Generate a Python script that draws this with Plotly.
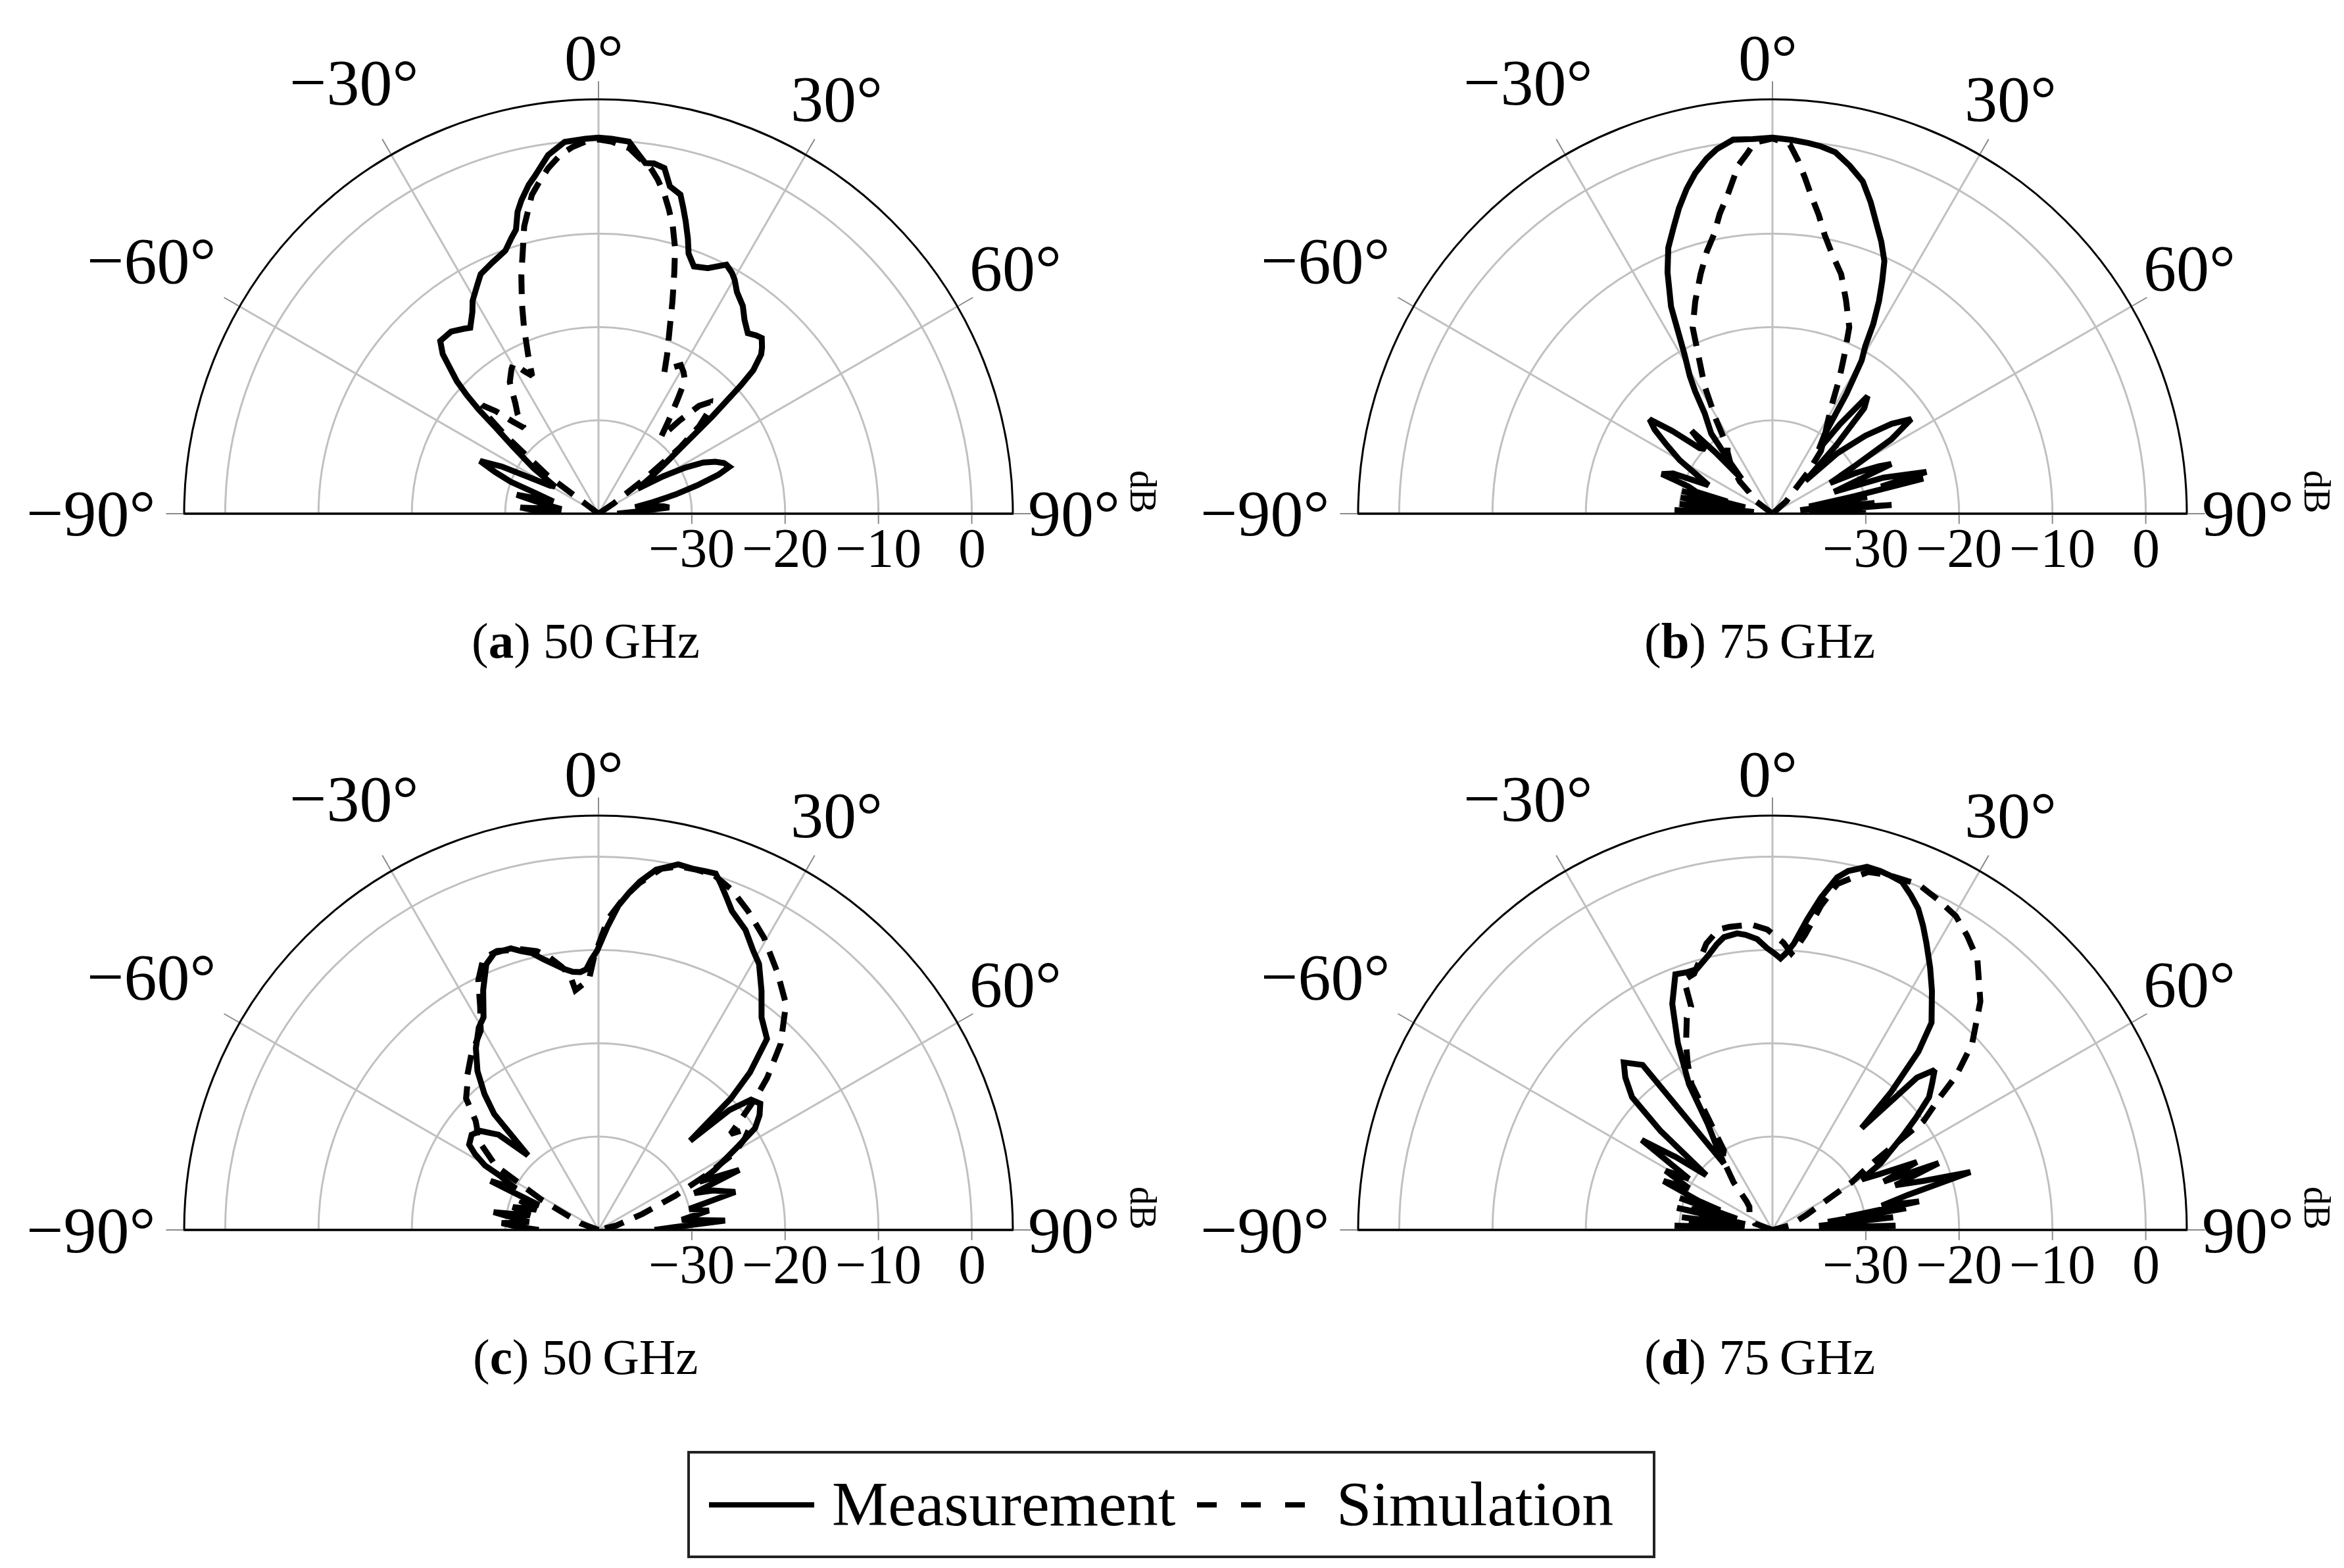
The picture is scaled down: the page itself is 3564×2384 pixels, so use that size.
import plotly.graph_objects as go

# ---------------- data (dB vs. angle in degrees) ----------------
meas_a_theta = [-90, -87.5, -85.5, -83, -80, -77, -75, -72, -70, -68, -66, -64, -62, -60, -58, -55, -52, -50,
                -49, -48, -46.9, -44.3, -42.5, -39, -36, -34.6, -32, -30.6, -28, -26.2, -23, -19.5, -17.5,
                -16.2, -15, -13.8, -12, -10.7, -8, -5.2, -2, 0, 2, 4.7, 6, 7.6, 9, 10.8, 12.3, 14.4, 15.5,
                16.6, 18, 19.1, 21.1, 24, 27.2, 29, 30.2, 32, 34.8, 37, 39.6, 41.5, 42.9, 44.5, 45.6, 47.2,
                48, 49.5, 51, 53, 55, 57.6, 60, 62, 64, 66, 68, 70.3, 72, 74, 76, 78, 80, 82, 83.5, 85, 87, 90]
meas_a_db = [-36, -33.5, -31.6, -36, -34, -31, -35, -33, -30, -28, -26.1, -28.5, -32, -34, -34.5, -31.5, -28.5,
             -25.5, -23, -21, -19.2, -16.1, -14.9, -14.9, -15.5, -15.8, -14.5, -13.5, -12.3, -11.4, -10.8,
             -10.1, -9.0, -8.3, -6.5, -5.4, -4.0, -3.2, -1.2, 0, 0.2, 0.3, 0.2, 0, -1.0, -2.1, -2.0, -2.3,
             -4.1, -4.7, -6.0, -7.3, -9.0, -10.5, -11.6, -11.2, -10.0, -10.5, -11.0, -12.0, -12.9, -14.0,
             -14.9, -14.5, -14.3, -15.0, -15.6, -17.4, -19.5, -24, -28, -31, -33, -35, -32, -29.5, -27.5,
             -26.3, -25.5, -25.1, -26.5, -29, -31.5, -34, -36, -34, -33, -32.4, -36, -38]

sim_a_theta = [-90, -60, -56, -53, -50, -48.5, -47, -45, -43, -41, -39, -37, -34, -31, -29.5, -27.5, -25.7,
               -24, -21.8, -20, -17.9, -16, -14.5, -11.8, -10, -8.3, -6, -4, -2, 0, 2, 4.8, 6.5, 8.6, 10,
               11.7, 13, 14.5, 16.1, 17.5, 19.2, 21, 23.3, 25, 27, 29, 31, 33, 34.6, 37, 39.2, 41, 43, 45,
               47, 49, 51, 53, 56, 60, 90]
sim_a_db = [-40, -40, -40, -33, -27, -24, -23, -24.5, -26.5, -27.8, -26.2, -25.2, -23.0, -21.9, -21.5, -22.8,
            -23.6, -21.5, -18.5, -16, -13.1, -10.6, -8.2, -5.1, -3.8, -2.6, -1.3, -0.6, -0.1, 0.1, -0.1,
            -0.7, -1.6, -2.55, -3.6, -5.1, -6.5, -8.2, -10.4, -13, -15.9, -18.7, -21.4, -23.3, -22.4,
            -21.8, -22.3, -23.0, -25, -27.5, -29.4, -26.8, -24.2, -23.1, -23.8, -25.7, -28.8, -33.8,
            -38, -40, -40]

meas_b_theta = [-90, -89, -88, -87, -86, -85, -84, -83, -82, -81, -80, -79, -78, -77, -76, -75, -74, -72,
                -70.3, -68, -66, -63, -60, -57, -54.5, -52.5, -50.5, -48, -46, -44.3, -43, -41.5, -39.6,
                -37.4, -34, -32.3, -31, -28.9, -26.1, -23.5, -21.4, -19, -17, -14.8, -12.8, -10.5, -8.7, -6,
                -3, 0, 3, 5.6, 7.5, 9.9, 12.5, 15.2, 17.5, 19.5, 21.8, 23.9, 25.3, 26.6, 28, 29, 30.2, 31.7,
                33.3, 35.8, 37, 39, 41, 43, 45, 47, 50, 53, 55.7, 58, 60, 62, 64, 66, 67.3, 69, 70.5, 72,
                74.8, 76, 76.9, 78, 79, 80, 81, 82, 83, 84, 85, 85.8, 86.5, 87.5, 88.5, 90]
meas_b_db = [-31, -37, -29.5, -36, -31, -38, -30, -36, -32, -37, -30, -35, -32, -37, -30, -35, -31.5, -30.5,
             -27.4, -28.5, -32.5, -31, -28.5, -26.5, -24.5, -23.4, -26, -29.5, -30, -27.6, -31, -35, -33,
             -29.2, -27, -24.5, -22.8, -20.5, -15.3, -11.8, -9.4, -7.5, -5.75, -4.0, -2.6, -1.3, -0.5, 0.3,
             0.2, 0.3, 0.1, -0.1, -0.3, -0.7, -1.8, -3.1, -5.0, -6.8, -8.6, -10.4, -12.5, -14.5, -17, -19.5,
             -21, -24.9, -29.8, -31.5, -28, -23.8, -25, -30, -35, -30.5, -27, -24, -22, -25, -30, -33, -30,
             -27.5, -26.2, -31, -33, -27.5, -22.9, -28, -23.4, -31, -36, -29.7, -35, -31, -37, -29, -34,
             -27.2, -35, -30, -36, -31]

sim_b_theta = [-90, -60, -53, -47.4, -45.5, -40, -36, -34, -31, -28, -23.2, -20, -16.7, -14, -11.8, -10,
               -8, -5.6, -4, -2.8, 0, 2.7, 4.1, 5.5, 6.9, 8.8, 10.6, 13, 16, 19, 22.4, 24.5, 26.3, 28.6, 31,
               34, 37.7, 40.7, 43, 48, 60, 90]
sim_b_db = [-40, -40, -37.5, -36.6, -35.1, -33, -31.8, -31.4, -28.3, -24.5, -18.3, -15.8, -13.2, -11, -9.4,
            -7.4, -5.5, -2.5, -1.3, -0.2, 0.2, -0.4, -2, -3.8, -5.6, -7.6, -9.6, -11.5, -13.3, -15.8, -18.4,
            -21.5, -23.8, -26.7, -28.5, -30, -31.5, -34.2, -36.6, -38, -40, -40]

meas_c_theta = [-90, -88, -85.9, -83.5, -80.4, -78, -75, -72, -69.5, -67.4, -65.6, -63.5, -61.3, -60.4,
                -58.5, -56.6, -53.1, -50, -48, -46.4, -43.4, -42, -40, -37.3, -34, -30.6, -28.4, -25.7,
                -22.9, -20.6, -17.3, -15.5, -13.5, -11.5, -9.6, -7.5, -5.7, -4, -2.7, -1.5, -0.3, 1.7, 3.5,
                5.2, 6.8, 9.1, 12.3, 14.8, 16.5, 18.2, 19.5, 21.1, 22.7, 26.1, 29, 31.1, 34.3, 37.5, 41.4,
                43.9, 45.2, 45.8, 47.5, 49.5, 52, 54.5, 57, 59, 60.5, 62.7, 64.5, 66.9, 69, 71, 74.5, 77,
                80, 83, 85.8, 88, 90]
meas_c_db = [-33.6, -31.5, -29.6, -32.5, -28.6, -32.5, -30.5, -33, -31, -33.1, -27.3, -30.1, -28.1, -26,
             -24.5, -23.4, -23.0, -23.5, -24.5, -25.2, -29, -23.3, -21, -18.6, -16.5, -14.8, -14.1, -11.5,
             -9.1, -8.3, -8.4, -9, -9.5, -10.4, -11.1, -11.8, -12.2, -12.3, -12.05, -11.0, -10.1, -7.5,
             -5.2, -3.7, -2.4, -0.9, 0.1, 0, 0.1, 0.2, -0.7, -1.85, -2.95, -4.2, -5.8, -6.7, -9, -11.3,
             -12.7, -16.6, -20, -26.3, -21, -18.5, -18, -18.8, -20, -22.5, -24.1, -26, -28, -23.6, -29,
             -27, -24.8, -30, -28, -31, -26.4, -32, -34]

sim_c_theta = [-90, -70, -62, -58, -53, -50, -48.4, -45.2, -42, -40.4, -36, -30.6, -28, -25.7, -23, -20,
               -15.4, -12.5, -10.4, -8, -6.4, -5.5, -3.5, -2.2, -0.9, 1.7, 4.4, 6.7, 9.9, 12.5, 15, 18,
               21.4, 25.1, 29.5, 34.8, 39.7, 44.4, 48, 50, 52, 54, 56, 58, 60.5, 63, 66, 70, 76, 90]
sim_c_db = [-40, -38, -33, -27, -23.7, -23, -22.4, -20, -19, -18.3, -16.8, -15.2, -13, -10.3, -8.4, -8.2,
            -8.8, -9.4, -10.2, -11.5, -12.5, -14.2, -13.6, -13.2, -10.7, -6.7, -4.3, -2.6, -0.7, -0.1, 0,
            0, -0.85, -2.25, -4, -6.4, -8.55, -12.1, -15.7, -18, -20.5, -22.5, -20.5, -21.5, -23.3, -27,
            -31, -35, -38, -40]

meas_d_theta = [-90, -89, -87.5, -86, -85, -83.5, -82, -80.5, -79.5, -78, -77, -75.5, -74, -72.5, -71, -69.5,
                -68.5, -65.8, -63.5, -61, -58.5, -55.5, -53, -50.4, -48.5, -46.6, -44, -41.6, -38.2, -36.2,
                -33.5, -31.4, -29.8, -26.9, -23.9, -20.8, -18.5, -16.2, -13.3, -11, -9.4, -6.8, -5.2, -3,
                -1.1, 0.5, 1.7, 3, 4.3, 6.4, 8.3, 10.4, 11.9, 14.6, 16.7, 18.5, 20.4, 22.5, 24.4, 26.3, 28.2,
                31, 33.7, 37.5, 39.3, 40.7, 41.2, 43.5, 45.4, 47.5, 49.7, 52, 54.3, 56.5, 58.4, 60.5, 62.5,
                64.8, 66.5, 68.1, 70, 72, 73.7, 75.5, 77.5, 79, 80, 80.8, 81.7, 82.5, 83.3, 84, 85, 86, 87,
                88, 89, 90]
meas_d_db = [-31, -36, -29.5, -36, -31, -37, -30.2, -36, -32, -37, -29.5, -35, -31, -36, -29.5, -34, -31.5,
             -27.2, -30, -26.9, -29.5, -23, -27, -30.8, -24, -19.3, -17.3, -16, -17.5, -31.2, -29, -26.7,
             -22, -17.6, -13.5, -10.7, -10.9, -10.9, -9.85, -8.8, -8.2, -8.0, -8.25, -8.8, -9.8, -10.4,
             -10.9, -10.2, -9.2, -6.5, -4.0, -1.6, -0.7, 0.2, 0.15, 0, -0.2, -1.2, -2.2, -3.6, -5.1, -7.2,
             -9.2, -12, -15.3, -20.5, -25.5, -17.5, -15.6, -16.8, -18, -20.5, -22.9, -25, -26.4, -29, -27,
             -22.9, -27, -20.8, -26, -23, -17.9, -25, -28, -24, -32, -25.5, -34, -30, -34, -27, -35, -30,
             -35, -26.8, -33, -30]

sim_d_theta = [-90, -70, -55, -45, -42.3, -39.2, -36, -34.6, -31.4, -29, -27, -24.9, -22, -20, -19.5, -17,
               -15, -13, -10.2, -8.1, -4, -1, 2.2, 3.9, 5, 6.3, 8.5, 10.6, 12.6, 15, 18, 22.9, 26.5, 30.3,
               33.5, 37.1, 42.3, 47, 50, 51.6, 54.2, 56.5, 58.9, 62, 66, 75, 90]
sim_d_db = [-40, -38, -37, -36.5, -35.9, -33.4, -31.5, -30.6, -30, -22.1, -20, -18, -15.5, -14.5, -11.6,
            -11.3, -10, -8.5, -7.3, -7.2, -7.2, -7.8, -9.2, -10.3, -9.5, -8.2, -4.9, -2.3, -1.4, -0.3, 0,
            0.2, -0.4, -1.05, -2.2, -3.6, -6.9, -10.75, -14.3, -17.1, -20, -27.7, -30, -34, -36, -38, -40]

panel_letters = ["a", "b", "c", "d"]
panel_freqs = ["50", "75", "50", "75"]

angle_ticks = [-90, -60, -30, 0, 30, 60, 90]
angle_labels = ["\u221290\u00b0", "\u221260\u00b0", "\u221230\u00b0", "0\u00b0", "30\u00b0", "60\u00b0", "90\u00b0"]
db_ticks = [-30, -20, -10, 0]
db_labels = ["\u221230", "\u221220", "\u221210", "0"]

# ---------------- layout constants ----------------
W, H = 3564, 2384
R_MIN, R_MAX = -40, 4.4
RAD = 630                       # radius of the half disc in px
CENTERS = [(902, 773), (2687, 773), (902, 1862), (2687, 1862)]
# where the angle labels sit, relative to the centre of each half disc (px)
ANGLE_LABEL_POS = [(-772, 0), (-680, -385), (-372, -656), (-7, -694), (362, -631), (634, -374), (723, 0)]
SERIF = "Liberation Serif"
GRID = "#c0c0c0"
TICKC = "#8a8a8a"


def px(x):
    return x / W


def py(y):
    return 1 - y / H


def note(text, x, y, size, **kw):
    d = dict(text=text, x=px(x), y=py(y), xref="paper", yref="paper", showarrow=False,
             xanchor="center", yanchor="middle", font=dict(family=SERIF, size=size, color="black"))
    d.update(kw)
    return d


fig = go.Figure()
series = [
    (meas_a_theta, meas_a_db, sim_a_theta, sim_a_db),
    (meas_b_theta, meas_b_db, sim_b_theta, sim_b_db),
    (meas_c_theta, meas_c_db, sim_c_theta, sim_c_db),
    (meas_d_theta, meas_d_db, sim_d_theta, sim_d_db),
]

layout_polars = {}
shapes = []
annotations = []
for i, ((mt, mr, st, sr), (cx, cy)) in enumerate(zip(series, CENTERS)):
    name = "polar" if i == 0 else f"polar{i + 1}"
    fig.add_trace(go.Scatterpolar(theta=st, r=sr, mode="lines", subplot=name, name="Simulation",
                                  line=dict(color="black", width=9, dash="30px,18px"),
                                  showlegend=False, hoverinfo="skip"))
    fig.add_trace(go.Scatterpolar(theta=mt, r=mr, mode="lines", subplot=name, name="Measurement",
                                  line=dict(color="black", width=9), showlegend=False, hoverinfo="skip"))

    layout_polars[name] = dict(
        domain=dict(x=[px(cx - RAD), px(cx + RAD)], y=[py(cy), py(cy - RAD)]),
        sector=[0, 180],
        bgcolor="white",
        radialaxis=dict(range=[R_MIN, R_MAX], angle=0, tickmode="array", tickvals=db_ticks,
                        showticklabels=False, showline=True, linecolor="black", linewidth=3,
                        showgrid=True, gridcolor=GRID, gridwidth=3, ticks="outside", ticklen=14,
                        tickwidth=2, tickcolor=TICKC),
        angularaxis=dict(rotation=90, direction="clockwise", thetaunit="degrees", tickmode="array",
                         tickvals=angle_ticks, showticklabels=False, showline=True, linecolor="black",
                         linewidth=3, showgrid=True, gridcolor=GRID, gridwidth=3, ticks="outside",
                         ticklen=26, tickwidth=2, tickcolor=TICKC),
    )

    # left half of the base line (the radial axis line only covers the right half)
    shapes.append(dict(type="line", xref="paper", yref="paper", x0=px(cx - RAD), x1=px(cx),
                       y0=py(cy), y1=py(cy), line=dict(color="black", width=3)))

    # angle labels
    for lab, (ox, oy) in zip(angle_labels, ANGLE_LABEL_POS):
        annotations.append(note(lab, cx + ox, cy + oy, 100))
    # dB tick labels, placed on the radial scale
    for v, lab in zip(db_ticks, db_labels):
        xr = cx + (v - R_MIN) / (R_MAX - R_MIN) * RAD
        annotations.append(note(lab, xr, cy + 52, 84))

    annotations.append(note("dB", cx + 828, cy - 34, 56, textangle=90))
    annotations.append(note(f"(<b>{panel_letters[i]}</b>) {panel_freqs[i]}\u2009GHz", cx - 20, cy + 193, 77))

# ---------------- legend (drawn by hand so the line keys are long) ----------------
shapes.append(dict(type="rect", xref="paper", yref="paper", x0=px(1039), x1=px(2507), y0=py(2359),
                   y1=py(2200), line=dict(color="#222222", width=4), fillcolor="white"))
shapes.append(dict(type="line", xref="paper", yref="paper", x0=px(1070), x1=px(1230), y0=py(2280),
                   y1=py(2280), line=dict(color="black", width=8)))
shapes.append(dict(type="line", xref="paper", yref="paper", x0=px(1812), x1=px(1977), y0=py(2280),
                   y1=py(2280), line=dict(color="black", width=8, dash="30px,37px")))
annotations.append(note("Measurement", 1255, 2278, 96, xanchor="left"))
annotations.append(note("Simulation", 2022, 2278, 96, xanchor="left"))

fig.update_layout(
    width=W, height=H,
    margin=dict(l=0, r=0, t=0, b=0),
    paper_bgcolor="white",
    plot_bgcolor="white",
    showlegend=False,
    shapes=shapes,
    annotations=annotations,
    **layout_polars,
)

fig.write_html("out.html")
